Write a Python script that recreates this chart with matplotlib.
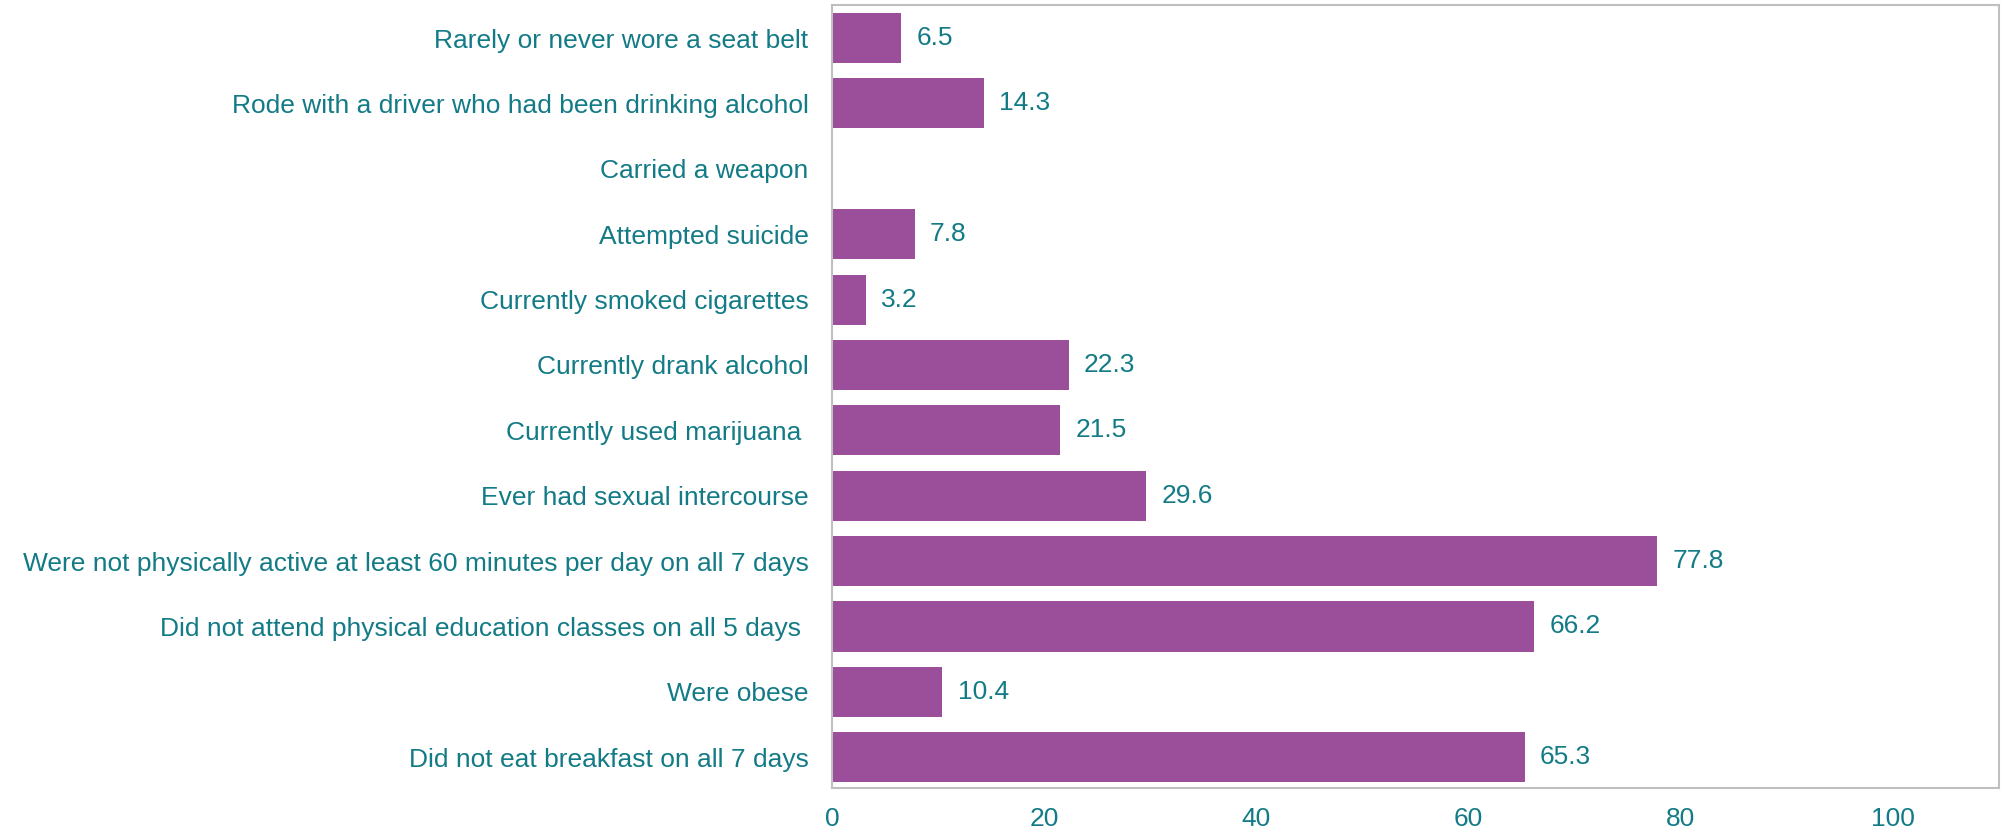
import matplotlib
matplotlib.use("Agg")
import matplotlib.pyplot as plt
import numpy as np

categories = [
    "Rarely or never wore a seat belt",
    "Rode with a driver who had been drinking alcohol",
    "Carried a weapon",
    "Attempted suicide",
    "Currently smoked cigarettes",
    "Currently drank alcohol",
    "Currently used marijuana ",
    "Ever had sexual intercourse",
    "Were not physically active at least 60 minutes per day on all 7 days",
    "Did not attend physical education classes on all 5 days ",
    "Were obese",
    "Did not eat breakfast on all 7 days",
]
values = [6.5, 14.3, np.nan, 7.8, 3.2, 22.3, 21.5, 29.6, 77.8, 66.2, 10.4, 65.3]
xticks = [0, 20, 40, 60, 80, 100]

TEXT = "#137B86"
BAR = "#9B4F9B"
EDGE = "#BFBFBF"
FS = 19

plt.rcParams['font.family'] = ['Liberation Sans', 'DejaVu Sans']

fig = plt.figure(figsize=(20.12, 8.36), dpi=100)
ax = fig.add_axes([832/2012, 1-788/836, (1999-832)/2012, (788-5)/836])

y = np.arange(len(categories))
vals = np.array(values, dtype=float)
ax.barh(y, np.nan_to_num(vals), height=0.765, color=BAR)
for yi, v in zip(y, vals):
    if not np.isnan(v):
        ax.annotate(f"{v:.1f}", xy=(v, yi), xytext=(11, 0), textcoords="offset points",
                    va="center", ha="left", color=TEXT, fontsize=FS)

ax.set_yticks(y)
ax.set_yticklabels(categories, color=TEXT, fontsize=FS)
ax.set_ylim(len(categories) - 0.53, -0.505)
ax.set_xlim(0, 110)
ax.set_xticks(xticks)
ax.set_xticklabels([str(t) for t in xticks], color=TEXT, fontsize=FS)
ax.tick_params(axis="both", length=0)
ax.tick_params(axis="y", pad=17)
ax.tick_params(axis="x", pad=14)
for s in ax.spines.values():
    s.set_color(EDGE)
    s.set_linewidth(1.5)

fig.savefig("out.png", dpi=100)
